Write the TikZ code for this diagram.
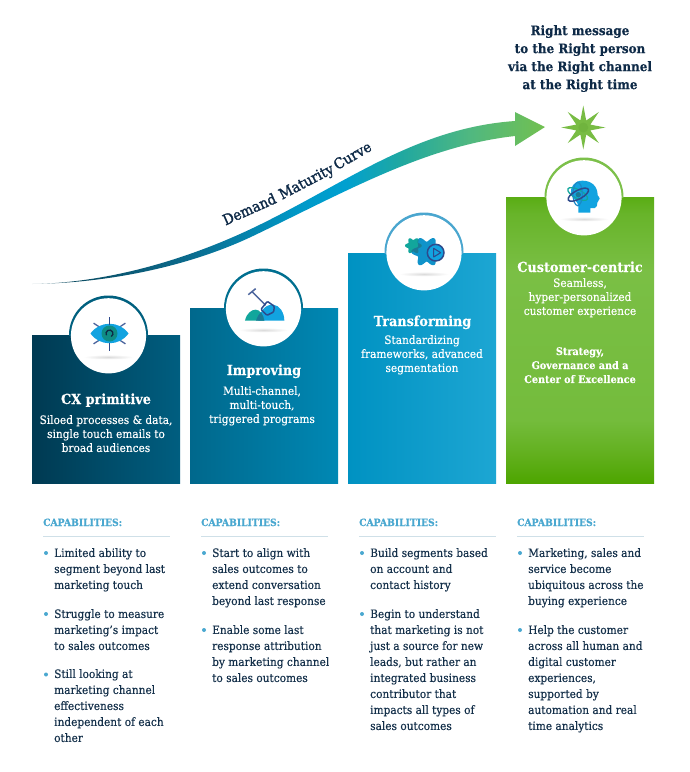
\documentclass[tikz,border=0pt]{standalone}
\usepackage{fontspec}
\setmainfont{DejaVu Serif}[FakeStretch=0.92,FakeBold=0.25]
\newfontfamily\medfont{DejaVu Serif}[FakeStretch=0.92,FakeBold=1.5]
\usetikzlibrary{shapes.geometric}
\definecolor{navy}{HTML}{0E2A47}
\definecolor{bodyink}{HTML}{14304A}
\definecolor{capblue}{HTML}{4AA8D0}
\definecolor{rulecol}{HTML}{CFE0E8}
\definecolor{iconnavy}{HTML}{2D4A8C}
\definecolor{iconblue}{HTML}{12A3E0}
\definecolor{iconteal}{HTML}{12A69C}
\definecolor{icondark}{HTML}{1A7A96}
\definecolor{stargreen}{HTML}{78BC44}
\definecolor{stardark}{HTML}{70B43E}
\definecolor{ringa}{HTML}{00607F}
\definecolor{ringb}{HTML}{006F90}
\definecolor{ringc}{HTML}{4AA6CF}
\definecolor{ringd}{HTML}{7CC04A}
\definecolor{b1l}{HTML}{003A52}\definecolor{b1r}{HTML}{005E80}
\definecolor{b2l}{HTML}{00688C}\definecolor{b2r}{HTML}{0088B4}
\definecolor{b3l}{HTML}{0092C2}\definecolor{b3r}{HTML}{1DA6D3}
\definecolor{g0}{HTML}{4DA500}\definecolor{g1}{HTML}{62B01E}\definecolor{g2}{HTML}{74BC3C}
\definecolor{g3}{HTML}{7ABF45}\definecolor{g4}{HTML}{68B42A}\definecolor{g5}{HTML}{5AAD14}
\definecolor{cs0}{HTML}{A0B8C0}
\definecolor{cs1}{HTML}{0A4A60}
\definecolor{cs2}{HTML}{0B6A8C}
\definecolor{cs3}{HTML}{0099C8}
\definecolor{cs4}{HTML}{00A0D0}
\definecolor{cs5}{HTML}{20A8A0}
\definecolor{cs6}{HTML}{50B880}
\definecolor{cs7}{HTML}{72C050}
\pgfdeclarehorizontalshading{curveshade}{100bp}{
 color(0bp)=(cs0);
 color(25bp)=(cs0);
 color(28.7bp)=(cs1);
 color(40bp)=(cs2);
 color(51bp)=(cs3);
 color(55.5bp)=(cs4);
 color(61bp)=(cs5);
 color(67.7bp)=(cs6);
 color(75bp)=(cs7);
 color(100bp)=(cs7)}
\pgfdeclareverticalshading{greenbox}{100bp}{
 color(0bp)=(g0);
 color(25bp)=(g0);
 color(30bp)=(g1);
 color(36bp)=(g2);
 color(62bp)=(g3);
 color(72bp)=(g4);
 color(75bp)=(g5);
 color(100bp)=(g5)}
\tikzset{
 x=1pt,y=-1pt,
 headtext/.style={inner sep=0,align=center,anchor=north,text=navy,font=\fontsize{13}{18}\selectfont\bfseries,execute at begin node={\rule{0pt}{13pt}}},
 curvetext/.style={inner sep=0,anchor=base,text=navy,font=\medfont\fontsize{14.6}{16}\selectfont},
 boxtitle/.style={inner sep=0,anchor=base,text=white,font=\fontsize{13.9}{16}\selectfont\bfseries},
 boxbody/.style={inner sep=0,align=center,anchor=north,text=white,font=\fontsize{11.5}{14}\selectfont,execute at begin node={\rule{0pt}{11pt}}},
 capstyle/.style={inner sep=0,anchor=base west,text=capblue,font=\fontsize{10}{12}\selectfont\bfseries},
 itemtext/.style={inner sep=0,align=left,anchor=north west,text=bodyink,font=\fontsize{11.5}{16}\selectfont,execute at begin node={\rule{0pt}{12pt}}},
 bulletdot/.style={circle,fill=capblue,inner sep=0,minimum size=4pt},
 caprule/.style={draw=rulecol,line width=.7pt},
}
% \badge{cx}{cy}{box top}{ring colour}
\newcommand{\badge}[4]{%
 \begin{scope}
  \clip (#1-45,#2-45) rectangle (#1+45,#3);
  \fill[#4] (#1,#2) circle (39.5);
 \end{scope}
 \fill[white] (#1,#2+.8) circle (37.6);
 \shade[inner color=black!14,outer color=white,draw=none] (#1,#2+22) ellipse (25 and 2.4);
}
\begin{document}
\begin{tikzpicture}
\useasboundingbox (0,0) rectangle (690,772);
\fill[white] (0,0) rectangle (690,772);

% maturity curve
\shade[shading=curveshade]
 (32,284) .. controls (110,283) and (190,258) .. (253,228)
 .. controls (345,184) and (415,128) .. (515,121)
 -- (515,112) -- (545,127) -- (515,146) -- (515,136)
 .. controls (425,146) and (345,192) .. (253,236)
 .. controls (190,266) and (110,283) .. (32,284) -- cycle;
\node[curvetext,rotate=24] (cw1) at (251.5,214) {Demand};
\node[curvetext,rotate=27.5] (cw2) at (308.5,186) {Maturity};
\node[curvetext,rotate=30] (cw3) at (355,160) {Curve};

% goal
\node[headtext] (goal) at (580,25) {Right message\\to the Right person\\via the Right channel\\at the Right time};
\node[star,star points=8,star point ratio=2.9,minimum size=44pt,inner sep=0,fill=stargreen] (spark) at (583.3,127.5) {};
\fill[stardark] (spark.center) circle (5);

% boxes
\shade[left color=b1l,right color=b1r] (32,335) rectangle (180,483);
\shade[left color=b2l,right color=b2r] (190,308) rectangle (338,483);
\shade[left color=b3l,right color=b3r] (348,253) rectangle (496,483);
\shade[shading=greenbox] (506,197) rectangle (654,483);

\badge{108.5}{335}{335}{ringa}
\badge{263.5}{308}{308}{ringb}
\badge{424}{252}{253}{ringc}
\badge{584}{197}{197}{ringd}

% eye icon
\begin{scope}[shift={(109.5,333.5)}]
 \foreach \a in {33,147,213,327} \draw[iconnavy!85!white,line width=1.3pt] (\a:11) -- (\a:19);
 \fill[iconblue] (-19,0) .. controls (-10,-13) and (10,-13) .. (19,0) .. controls (10,13) and (-10,13) .. (-19,0) -- cycle;
 \draw[iconnavy,line width=1.6pt] (0,-16.5) -- (0,-9) (0,9) -- (0,17);
 \fill[iconteal!85!black] (0,0) circle (8);
 \draw[navy,line width=1.3pt] (60:3.5) arc (60:-210:3.5);
\end{scope}

% shovel icon
\begin{scope}[shift={(225,268)},x=.3333pt,y=-.3333pt]
 \fill[iconblue] (100,158) .. controls (105,125) and (125,108) .. (145,110) .. controls (165,112) and (178,135) .. (178,158) -- cycle;
 \fill[iconteal] (60,158) .. controls (65,135) and (80,125) .. (92,125) .. controls (105,125) and (115,140) .. (118,158) -- cycle;
 \fill[icondark] (93,158) .. controls (97,145) and (104,136) .. (108,133) .. controls (113,140) and (117,150) .. (118,158) -- cycle;
 \draw[iconnavy!85!white,line width=1.5pt] (70,80) -- (92,62) (81,71) -- (122,112);
 \draw[iconnavy,line width=1.5pt,line join=round,rounded corners=1pt] (127,100) -- (148,115) -- (146,132) -- (126,142) -- (108,124) -- cycle;
\end{scope}

% gear icon
\begin{scope}[shift={(385,215)},x=.3333pt,y=-.3333pt]
 \fill[iconblue!90!black] plot[domain=0:360,samples=120,smooth] ({125+(38+8*cos(6*\x))*cos(\x)},{110+(38+8*cos(6*\x))*sin(\x)}) -- cycle;
 \fill[iconteal] plot[domain=0:360,samples=120,smooth] ({85+(21+4*cos(6*\x))*cos(\x)},{92+(21+4*cos(6*\x))*sin(\x)}) -- cycle;
 \begin{scope}
  \clip plot[domain=0:360,samples=120,smooth] ({85+(21+4*cos(6*\x))*cos(\x)},{92+(21+4*cos(6*\x))*sin(\x)}) -- cycle;
  \fill[icondark] plot[domain=0:360,samples=120,smooth] ({125+(38+8*cos(6*\x))*cos(\x)},{110+(38+8*cos(6*\x))*sin(\x)}) -- cycle;
 \end{scope}
 \fill[iconblue] (152,113) circle (25);
 \draw[iconnavy,line width=1.5pt] (152,113) circle (25);
 \draw[iconnavy,line width=1.1pt,line join=round] (146,100) -- (167,113) -- (146,126) -- cycle;
\end{scope}

% head icon
\begin{scope}[shift={(545,158)},x=.3333pt,y=-.3333pt]
 \fill[iconblue] (100,164) -- (136,164) -- (136,150) -- (150,150) .. controls (156,150) and (157,140) .. (157,134) -- (164,122) .. controls (165,118) and (160,116) .. (158,112) .. controls (158,85) and (140,68) .. (112,68) .. controls (90,68) and (75,85) .. (78,108) .. controls (80,120) and (100,130) .. (100,145) -- cycle;
 \draw[iconteal,line width=1.3pt] (98,108) ellipse [x radius=33,y radius=13,rotate=-28];
 \draw[iconblue!70!iconnavy,line width=1.2pt] (98,108) ellipse [x radius=14,y radius=35];
 \draw[iconnavy,line width=1.5pt] (100,110) ellipse [x radius=34,y radius=13,rotate=28];
 \fill[icondark] (100,110) circle (8);
\end{scope}

% box texts
\node[boxtitle] (t1) at (106,404) {CX primitive};
\node[boxbody]  (d1) at (106,415) {Siloed processes \& data,\\single touch emails to\\broad audiences};
\node[boxtitle] (t2) at (264,375) {Improving};
\node[boxbody]  (d2) at (262,386) {Multi-channel,\\multi-touch,\\triggered programs};
\node[boxtitle] (t3) at (422.5,326) {Transforming};
\node[boxbody]  (d3) at (422,335) {Standardizing\\frameworks, advanced\\segmentation};
\node[boxtitle] (t4) at (580,272) {Customer-centric};
\node[boxbody]  (d4) at (580,278) {Seamless,\\hyper-personalized\\customer experience};
\node[boxbody,font=\fontsize{10.5}{14}\selectfont\bfseries] (e4) at (580,347) {Strategy,\\Governance and a\\Center of Excellence};

% capabilities headers and rules
\foreach \n/\x/\w in {a/43/127,b/201/127,c/359/137,d/517/127}{
 \node[capstyle] (cap\n) at (\x,526) {CAPABILITIES:};
 \draw[caprule] (\x,536.5) -- ++(\w,0);
}

% items
\foreach \x/\y in {46/553,46/614,46/674.5,204/553,204/630,362/553,362/614,520/553,520/630}
 \node[bulletdot] at (\x,\y) {};
\node[itemtext] (i1a) at (54,548) {Limited ability to\\segment beyond last\\marketing touch};
\node[itemtext] (i1b) at (54,609) {Struggle to measure\\marketing's impact\\to sales outcomes};
\node[itemtext] (i1c) at (54,669) {Still looking at\\marketing channel\\effectiveness\\independent of each\\other};
\node[itemtext] (i2a) at (212,548) {Start to align with\\sales outcomes to\\extend conversation\\beyond last response};
\node[itemtext] (i2b) at (212,625) {Enable some last\\response attribution\\by marketing channel\\to sales outcomes};
\node[itemtext] (i3a) at (370,548) {Build segments based\\on account and\\contact history};
\node[itemtext] (i3b) at (370,609) {Begin to understand\\that marketing is not\\just a source for new\\leads, but rather an\\integrated business\\contributor that\\impacts all types of\\sales outcomes};
\node[itemtext] (i4a) at (528,548) {Marketing, sales and\\service become\\ubiquitous across the\\buying experience};
\node[itemtext] (i4b) at (528,625) {Help the customer\\across all human and\\digital customer\\experiences,\\supported by\\automation and real\\time analytics};
\end{tikzpicture}
\end{document}
